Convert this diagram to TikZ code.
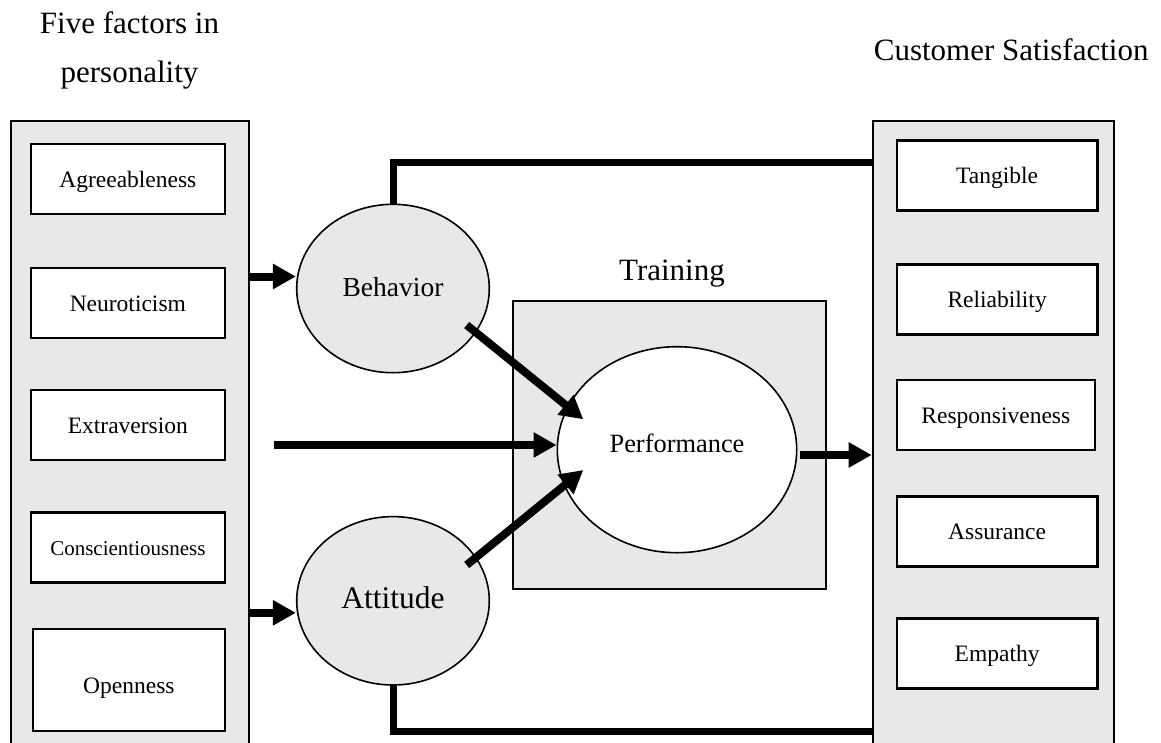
\documentclass[tikz,border=0pt]{standalone}
\usepackage{fontspec}
\setmainfont{Liberation Serif}
\usetikzlibrary{positioning, arrows.meta, shapes.geometric, calc}
\definecolor{panelgray}{RGB}{232,232,232}
\tikzset{
  PN/.style={draw=black,fill=panelgray,line width=2pt,rectangle,inner sep=0pt},
  FB/.style={draw=black,fill=white,line width=2.4pt,rectangle,minimum height=70pt,text height=16pt,text depth=0pt,font=\fontsize{23.5}{28}\selectfont,inner sep=0pt},
  EL/.style={draw=black,fill=panelgray,line width=1.6pt,ellipse,minimum width=192.6pt,minimum height=168.4pt,inner sep=0pt},
  TT/.style={font=\fontsize{31}{49}\selectfont,inner sep=0pt,align=center},
  AR/.style={-{Triangle[length=23pt,width=24pt]},line width=8pt},
  LN/.style={line width=7pt},
}
\begin{document}
\begin{tikzpicture}[x=1pt,y=-1pt]
\useasboundingbox (0,0) rectangle (1161,742);

% Titles
\node[TT](fftitle) at (129.5,50.2){Five factors in\\personality};
\node[TT,anchor=base](cstitle) at (1011.2,60){Customer Satisfaction};

% Panels
\node[PN,minimum width=238.3pt,minimum height=660pt](fpanel) at (129.85,450.7){};
\node[PN,minimum width=240.8pt,minimum height=660pt](cpanel) at (993.1,450.7){};

% Personality factors
\node[FB,minimum width=194.3pt](agr) at (127.85,179.2){Agreeableness};
\node[FB,minimum width=194.3pt](neu) at (127.85,303){Neuroticism};
\node[FB,minimum width=194.3pt](ext) at (127.85,425){Extraversion};
\node[FB,minimum width=194.3pt,font=\fontsize{21}{25}\selectfont](con) at (127.85,547.4){Conscientiousness};
\node[FB,minimum width=192.3pt,minimum height=102.3pt,text height=26.8pt](ope) at (128.85,679.9){Openness};

% Satisfaction dimensions
\node[FB,minimum width=200.8pt](tan) at (997.1,175.4){Tangible};
\node[FB,minimum width=200.8pt](rel) at (997.1,299.3){Reliability};
\node[FB,minimum width=198.3pt](res) at (995.85,415){Responsiveness};
\node[FB,minimum width=200.8pt](ass) at (997.1,531.5){Assurance};
\node[FB,minimum width=200.8pt](emp) at (997.1,653.5){Empathy};

% Training
\node[PN,minimum width=313pt,minimum height=288.3pt](trn) at (669.2,444.85){};
\node[TT,anchor=base](trnlabel) at (672,280){Training};

% Ellipses
\node[EL,font=\fontsize{27.5}{32}\selectfont,text height=16pt,text depth=0pt](beh) at (393,288.5){Behavior};
\node[EL,font=\fontsize{31.5}{36}\selectfont,text height=15pt,text depth=0pt](att) at (393,600.8){Attitude};
\node[EL,fill=white,minimum width=239.4pt,minimum height=206pt,font=\fontsize{26.4}{30}\selectfont,text height=6pt,text depth=0pt](perf) at (677,449.7){Performance};

% Connectors to satisfaction
\draw[LN](beh.north) |- ($(cpanel.north west)+(0,42.6)$);
\draw[LN](att.south) |- ($(cpanel.north west)+(0,612)$);

% Arrows
\coordinate (bin) at ($(beh.west)+(0,-12)$);
\draw[AR](fpanel.east |- bin) -- (bin);
\coordinate (ain) at ($(att.west)+(0,12)$);
\draw[AR](fpanel.east |- ain) -- (ain);
\coordinate (xin) at ($(fpanel.east)+(24,-5.7)$);
\draw[AR](xin) -- (xin -| perf.west);
\draw[AR]($(beh)+(73.7,36.5)$) -- ($(perf)+(-93.7,-30.4)$);
\draw[AR]($(att)+(73.7,-35.8)$) -- ($(perf)+(-93.7,20.3)$);
\coordinate (pout) at ($(perf.east)+(2,5.3)$);
\draw[AR](pout) -- (pout -| cpanel.west);

\end{tikzpicture}
\end{document}
